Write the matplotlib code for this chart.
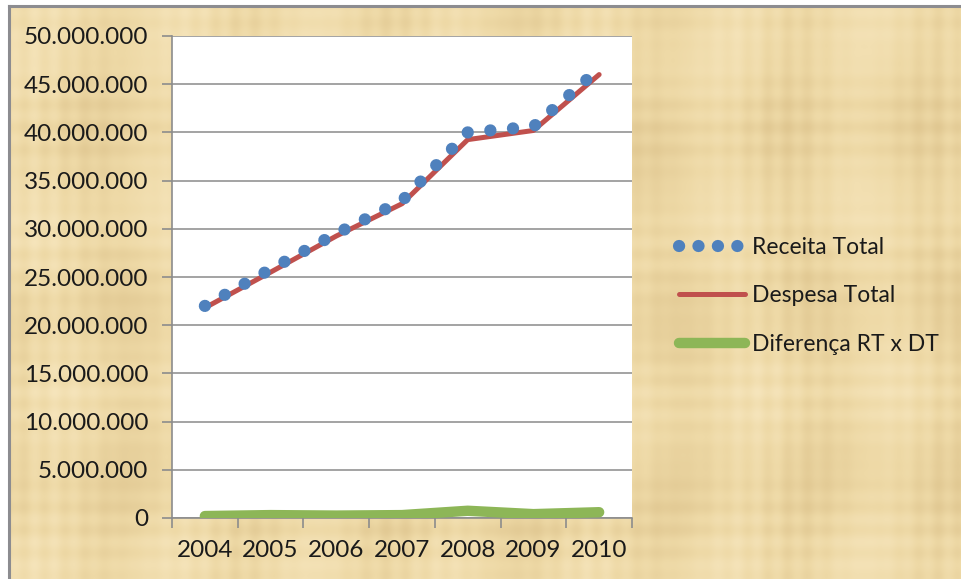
import matplotlib
matplotlib.use("Agg")
import matplotlib.pyplot as plt
from matplotlib.ticker import FuncFormatter, FixedLocator
import numpy as np

plt.rcParams['font.family'] = ['Lato', 'DejaVu Sans']

anos = ['2004', '2005', '2006', '2007', '2008', '2009', '2010']
receita = [22.0, 25.8, 29.5, 32.9, 40.0, 40.6, 46.6]   # milhões
despesa = [21.8, 25.5, 29.25, 32.6, 39.25, 40.2, 46.0]
diferenca = [0.2, 0.3, 0.25, 0.3, 0.75, 0.4, 0.6]

receita = np.array(receita) * 1e6
despesa = np.array(despesa) * 1e6
diferenca = np.array(diferenca) * 1e6

W, H = 962, 579
fig = plt.figure(figsize=(W / 100, H / 100), dpi=100, facecolor='white')

# fundo tipo pergaminho (trama de fibras feita com senos)
bg = fig.add_axes([9 / W, 0, 1 - 9 / W, 1 - 6 / H])
bg.set_axis_off()
yy, xx = np.mgrid[0:H, 0:W].astype(float)
trama = (0.35 * np.sin(xx * 0.31) * np.sin(xx * 0.017 + 1.0)
         + 0.35 * np.sin(yy * 0.27) * np.sin(yy * 0.023 + 2.0)
         + 0.5 * np.sin(xx * 0.045 + 0.8 * np.sin(yy * 0.012))
         + 0.4 * np.sin(yy * 0.035 + 0.6 * np.sin(xx * 0.009)))
trama = trama / np.abs(trama).max()
base = np.array([238, 217, 166]) / 255
escuro = np.array([224, 199, 145]) / 255
claro = np.array([246, 229, 188]) / 255
t = trama[..., None]
img = np.where(t > 0, base + (claro - base) * t, base + (base - escuro) * t)
bg.imshow(img, aspect='auto', extent=[0, 1, 0, 1], interpolation='bilinear')
bg.set_xlim(0, 1)
bg.set_ylim(0, 1)
# moldura cinza só no topo e à esquerda
fig.add_artist(plt.Line2D([9 / W, 9 / W], [0, 1 - 6 / H], color='#8C8C90', lw=2.2))
fig.add_artist(plt.Line2D([9 / W, 1], [1 - 6 / H, 1 - 6 / H], color='#8C8C90', lw=2.2))

ax = fig.add_axes([172 / W, 1 - 518 / H, (632 - 172) / W, (518 - 36) / H])
ax.set_facecolor('white')

x = np.arange(len(anos))
ax.plot(x, diferenca, color='#8DB657', linewidth=7.5, solid_capstyle='round',
        label='Diferença RT x DT', zorder=3)
ax.plot(x, despesa, color='#C0504D', linewidth=3.6, solid_capstyle='round',
        label='Despesa Total', zorder=4)
ax.plot(x, receita, color='#4F81BD', linewidth=8.8, linestyle=(0, (0.01, 1.85)),
        dash_capstyle='round', label='Receita Total', zorder=5)

ax.set_xlim(-0.5, 6.5)
ax.set_ylim(0, 50e6)
ax.yaxis.set_major_locator(FixedLocator(np.arange(0, 50e6 + 1, 5e6)))
ax.yaxis.set_major_formatter(FuncFormatter(lambda v, p: f'{int(v):,}'.replace(',', '.')))
ax.grid(axis='y', color='#9C9C9C', linewidth=1.3)
ax.set_axisbelow(True)

ax.set_xticks(x)
ax.set_xticklabels(anos)
ax.set_xticks(np.arange(-0.5, 7, 1), minor=True)
ax.tick_params(axis='x', which='major', length=0, pad=16, labelsize=17.5, labelcolor='#1A1A1A')
ax.tick_params(axis='x', which='minor', length=7, width=1.2, color='#8C8C8C')
ax.tick_params(axis='y', length=7, width=1.2, color='#8C8C8C', pad=10,
               labelsize=17.5, labelcolor='#1A1A1A')

for s in ['top', 'right']:
    ax.spines[s].set_visible(False)
for s in ['left', 'bottom']:
    ax.spines[s].set_color('#8C8C8C')
    ax.spines[s].set_linewidth(1.2)

h, l = ax.get_legend_handles_labels()
leg = fig.legend(h[::-1], l[::-1], loc='center left', bbox_to_anchor=(658 / W, 1 - 296 / H),
                 frameon=False, fontsize=16.5, handlelength=2.9, labelspacing=1.2,
                 handletextpad=0.3)
# quatro pontos na amostra da receita
leg.get_lines()[0].set_linestyle((0, (0.01, 1.58)))
for txt in leg.get_texts():
    txt.set_color('#1A1A1A')

fig.savefig('out.png', dpi=100, facecolor=fig.get_facecolor())
